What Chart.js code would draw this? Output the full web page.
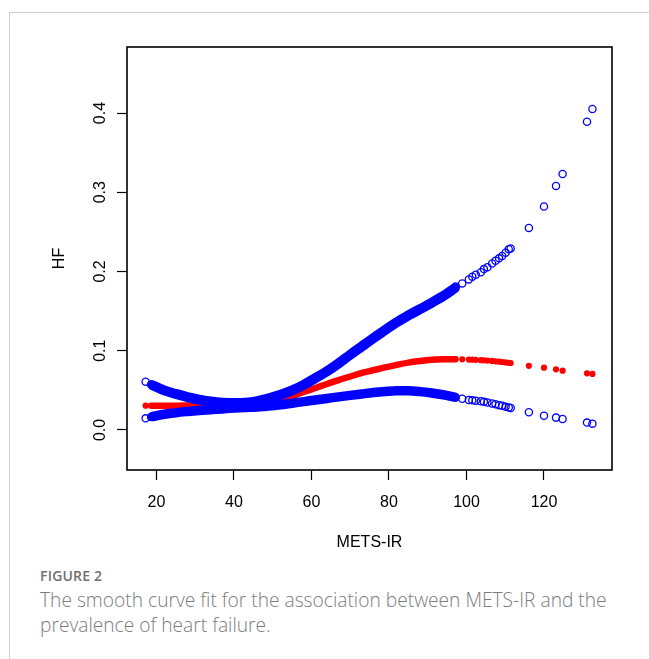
<!DOCTYPE html>
<html>
<head>
<meta charset="utf-8">
<script src="https://cdn.jsdelivr.net/npm/chart.js@4.4.1/dist/chart.umd.min.js"></script>
<style>
  html, body { margin: 0; padding: 0; background: #fff; width: 649px; height: 659px; overflow: hidden; }
  #card { position: absolute; left: 9px; top: 12px; width: 720px; height: 720px;
          border-left: 1px solid #cfcfcf; border-top: 1px solid #cfcfcf; }
  #plot { position: absolute; left: 0; top: 0; }
  #fig { position: absolute; left: 40px; top: 566px; font: 600 14px 'Open Sans', sans-serif;
         color: #707070; letter-spacing: 0.2px; }
  #cap { position: absolute; left: 40px; top: 587px; white-space: nowrap;
         font: 300 19.2px/25px 'Open Sans', sans-serif; color: #7c7c7c; }
</style>
</head>
<body>
<div id="card"></div>
<canvas id="plot" width="649" height="560"></canvas>
<div id="fig">FIGURE 2</div>
<div id="cap">The smooth curve fit for the association between METS-IR and the<br>prevalence of heart failure.</div>
<script>
// METS-IR values where the fitted curve and its confidence limits are dense
const bandX = [19, 22, 25, 28, 31, 34, 37, 40, 43, 46, 49, 52, 55, 58, 61, 64, 67, 70, 73, 76, 79, 82, 85, 88, 91, 94, 97];
// Fitted HF prevalence
const fitBand = [0.0307, 0.0307, 0.0307, 0.0308, 0.0309, 0.0310, 0.0312, 0.0316, 0.0325, 0.0340, 0.0362, 0.0390, 0.0432, 0.0480,
                 0.0530, 0.0580, 0.0630, 0.0675, 0.0720, 0.0755, 0.0790, 0.0822, 0.0850, 0.0870, 0.0885, 0.0892, 0.0893];
// Upper confidence limit
const upperBand = [0.0565, 0.0500, 0.0455, 0.0415, 0.0383, 0.0360, 0.0345, 0.0340, 0.0345, 0.0365, 0.0400, 0.0445, 0.0500, 0.0570,
                   0.0655, 0.0740, 0.0840, 0.0950, 0.1055, 0.1160, 0.1260, 0.1360, 0.1445, 0.1525, 0.1605, 0.1690, 0.1790];
// Lower confidence limit
const lowerBand = [0.0170, 0.0198, 0.0218, 0.0233, 0.0246, 0.0256, 0.0266, 0.0276, 0.0284, 0.0291, 0.0302, 0.0318, 0.0338, 0.0358,
                   0.0378, 0.0398, 0.0418, 0.0437, 0.0455, 0.0472, 0.0485, 0.0494, 0.0494, 0.0484, 0.0467, 0.0445, 0.0415];

// Sparse observations at both ends of the METS-IR range
const pointX = [17.2, 18.6, 97.2, 98.9, 100.6, 101.5, 102.4, 103.7, 104.5, 105.4, 106.6, 107.5, 108.4, 109.2, 110.1, 110.9, 111.4,
                116.1, 120.0, 123.1, 124.8, 131.1, 132.5];
const fitPts = [0.0307, 0.0307, 0.0893, 0.0892, 0.0889, 0.0887, 0.0885, 0.0881, 0.0879, 0.0876, 0.0871, 0.0866, 0.0862, 0.0858, 0.0853,
                0.0848, 0.0845, 0.0810, 0.0786, 0.0766, 0.0749, 0.0715, 0.0707];
const upperPts = [0.0610, 0.0575, 0.1810, 0.1850, 0.1900, 0.1935, 0.1960, 0.1990, 0.2030, 0.2053, 0.2100, 0.2137, 0.2166, 0.2196,
                  0.2237, 0.2280, 0.2290, 0.2550, 0.2820, 0.3080, 0.3230, 0.3890, 0.4050];
const lowerPts = [0.0147, 0.0165, 0.0410, 0.0395, 0.0379, 0.0374, 0.0370, 0.0362, 0.0355, 0.0346, 0.0335, 0.0324, 0.0313, 0.0305,
                  0.0292, 0.0284, 0.0278, 0.0223, 0.0180, 0.0156, 0.0139, 0.0093, 0.0080];

// Axis ticks
const xTicks = [20, 40, 60, 80, 100, 120];
const yTicks = [0, 0.1, 0.2, 0.3, 0.4];
const yTickLabels = ['0.0', '0.1', '0.2', '0.3', '0.4'];

const BLUE = '#0000ff';
const RED = '#ff0000';
const axisFont = { family: "'Liberation Sans', Arial, sans-serif", size: 16 };

const toXY = (xs, ys) => xs.map((x, i) => ({ x: x, y: ys[i] }));

const bandStyle = (color, width) => ({
  showLine: true, borderColor: color, borderWidth: width, pointRadius: 0,
  cubicInterpolationMode: 'monotone', borderCapStyle: 'round', borderJoinStyle: 'round', fill: false
});
const ringStyle = {
  showLine: false, pointStyle: 'circle', pointRadius: 3.6, borderWidth: 1.3,
  borderColor: BLUE, backgroundColor: 'rgba(0,0,0,0)'
};

// Box around the plotting region
const frame = {
  id: 'frame',
  afterDraw(chart) {
    const { ctx, chartArea: a } = chart;
    ctx.save();
    ctx.strokeStyle = '#000';
    ctx.lineWidth = 1.6;
    ctx.strokeRect(a.left, a.top, a.right - a.left, a.bottom - a.top);
    ctx.restore();
  }
};

new Chart(document.getElementById('plot'), {
  type: 'scatter',
  data: {
    datasets: [
      Object.assign({ label: 'Upper 95% CI', data: toXY(bandX, upperBand), order: 1 }, bandStyle(BLUE, 10)),
      Object.assign({ label: 'Lower 95% CI', data: toXY(bandX, lowerBand), order: 1 }, bandStyle(BLUE, 9.5)),
      Object.assign({ label: 'Upper 95% CI (obs)', data: toXY(pointX, upperPts), order: 1 }, ringStyle),
      Object.assign({ label: 'Lower 95% CI (obs)', data: toXY(pointX, lowerPts), order: 1 }, ringStyle),
      Object.assign({ label: 'HF', data: toXY(bandX, fitBand), order: 2 }, bandStyle(RED, 6.5)),
      { label: 'HF (obs)', data: toXY(pointX, fitPts), order: 2, showLine: false, pointStyle: 'circle',
        pointRadius: 3.1, borderWidth: 0, backgroundColor: RED }
    ]
  },
  options: {
    responsive: false,
    animation: false,
    devicePixelRatio: 1,
    events: [],
    layout: { padding: { left: 0, right: 37, top: 47, bottom: 0 } },
    plugins: { legend: { display: false }, tooltip: { enabled: false } },
    scales: {
      x: {
        type: 'linear', min: 12.39, max: 137.55,
        afterFit(s) { s.height = 90; },
        afterBuildTicks(s) { s.ticks = xTicks.map(v => ({ value: v })); },
        ticks: { font: axisFont, color: '#000', padding: 13, maxRotation: 0, autoSkip: false,
                 callback: v => String(v) },
        grid: { display: true, drawOnChartArea: false, drawTicks: true, tickLength: 10,
                tickColor: '#000', tickWidth: 1.2 },
        border: { display: false },
        title: { display: true, text: 'METS-IR', font: axisFont, color: '#000',
                 padding: { top: 0, bottom: 7.4 } }
      },
      y: {
        type: 'linear', min: -0.0505, max: 0.4833,
        afterFit(s) { s.width = 127; },
        afterBuildTicks(s) { s.ticks = yTicks.map(v => ({ value: v })); },
        ticks: { font: axisFont, color: '#000', padding: 5, minRotation: 90, maxRotation: 90,
                 crossAlign: 'center', autoSkip: false,
                 callback: (v, i) => yTickLabels[i] },
        grid: { display: true, drawOnChartArea: false, drawTicks: true, tickLength: 10,
                tickColor: '#000', tickWidth: 1.2 },
        border: { display: false },
        title: { display: true, text: 'HF', font: axisFont, color: '#000',
                 padding: { top: 50, bottom: 0 } }
      }
    }
  },
  plugins: [frame]
});
</script>
</body>
</html>
